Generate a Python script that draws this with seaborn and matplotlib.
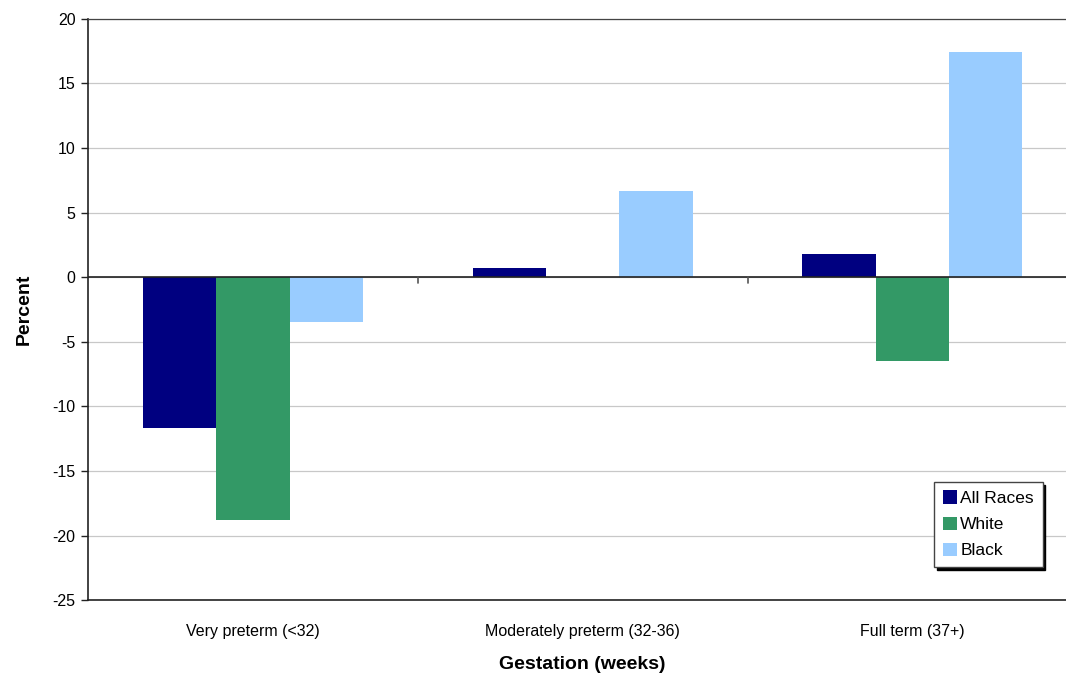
import numpy as np
import pandas as pd
import seaborn as sns
from matplotlib import pyplot as plt

# data
gestation = ['Very preterm (<32)', 'Moderately preterm (32-36)', 'Full term (37+)']
races = ['All Races', 'White', 'Black']
all_races = [-11.7, 0.7, 1.8]
white = [-18.8, 0.0, -6.5]
black = [-3.5, 6.7, 17.4]
colors = ['#000080', '#339966', '#99CCFF']


def build_frame():
    rows = []
    for race, vals in zip(races, [all_races, white, black]):
        for g, v in zip(gestation, vals):
            rows.append({'Gestation': g, 'Race': race, 'Percent': v})
    return pd.DataFrame(rows)


if __name__ == '__main__':
    sns.set_style('white')
    plt.rcParams['font.family'] = ['Liberation Sans', 'DejaVu Sans']
    plt.rcParams['axes.unicode_minus'] = False
    plt.rcParams['text.color'] = 'black'
    plt.rcParams['axes.labelcolor'] = 'black'
    plt.rcParams['xtick.color'] = 'black'
    plt.rcParams['ytick.color'] = 'black'

    df = build_frame()

    fig = plt.figure(figsize=(10.66, 6.75), dpi=100)
    ax = fig.add_axes([0.0826, 0.111, 0.928, 0.861])

    sns.barplot(data=df, x='Gestation', y='Percent', hue='Race',
                hue_order=races, order=gestation, palette=colors,
                width=0.667, saturation=1, linewidth=0, ax=ax, zorder=3)

    ax.set_ylim(-25, 20)
    ax.set_yticks(np.arange(-25, 21, 5))
    ax.set_xlim(-0.5, len(gestation) - 0.5)
    ax.yaxis.grid(True, color='#c8c8c8', linewidth=0.9, zorder=0)
    ax.axhline(0, color='#222222', linewidth=1.2, zorder=4)

    # category separator ticks on the zero line (Excel style)
    for b in np.arange(0.5, len(gestation) - 0.5, 1):
        ax.plot([b, b], [0, -0.45], color='#555555', linewidth=1.2, zorder=4)

    for side in ['left', 'bottom']:
        ax.spines[side].set_color('#222222')
        ax.spines[side].set_linewidth(1.2)
    ax.spines['top'].set_color('#444444')
    ax.spines['top'].set_linewidth(0.9)
    ax.spines['right'].set_visible(False)

    ax.tick_params(axis='y', which='major', left=True, length=5, width=1,
                   color='#222222', labelsize=11.5, pad=4)
    ax.tick_params(axis='x', bottom=False, labelsize=11.5, pad=14)

    ax.set_xlabel('Gestation (weeks)', fontsize=14, fontweight='bold', labelpad=12)
    ax.set_ylabel('Percent', fontsize=14, fontweight='bold', labelpad=14)

    leg = ax.legend(loc='lower right', bbox_to_anchor=(0.965, 0.057),
                    borderaxespad=0, frameon=True, fancybox=False,
                    shadow={'color': 'black', 'alpha': 1},
                    fontsize=12.5, handlelength=0.8, handleheight=0.8,
                    handletextpad=0.2, labelspacing=0.6, borderpad=0.5)
    leg.get_frame().set_edgecolor('#444444')
    leg.get_frame().set_linewidth(1)
    leg.get_frame().set_alpha(1)
    leg.set_zorder(6)

    plt.savefig('out.png', dpi=100)
